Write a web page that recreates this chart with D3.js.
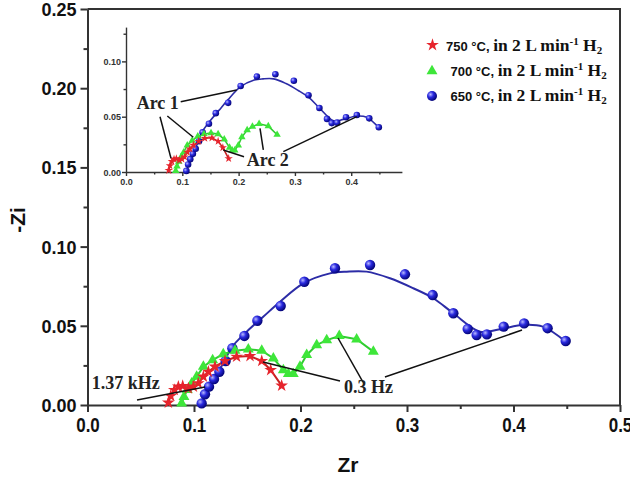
<!DOCTYPE html>
<html>
<head>
<meta charset="utf-8">
<script src="https://cdn.jsdelivr.net/npm/d3@7"></script>
<style>
  body { margin: 0; background: #fff; }
  svg { display: block; }
</style>
</head>
<body>
<svg id="chart" width="630" height="488"></svg>
<script>
// --- data: [Zr, -Zi] ---
const red750 = [
  [0.0759, 0.0015], [0.0781, 0.0057], [0.0815, 0.0095], [0.0853, 0.0116], [0.0894, 0.0120],
  [0.0947, 0.0105], [0.0994, 0.0116], [0.1040, 0.0137], [0.1088, 0.0179], [0.1135, 0.0210],
  [0.1197, 0.0242], [0.1291, 0.0278], [0.1400, 0.0305], [0.1526, 0.0309], [0.1636, 0.0278],
  [0.1720, 0.0221], [0.1823, 0.0122]
];
const green700 = [
  [0.0884, 0.0010], [0.0906, 0.0052], [0.0937, 0.0095], [0.0978, 0.0137], [0.1025, 0.0179],
  [0.1088, 0.0242], [0.1175, 0.0284], [0.1275, 0.0322], [0.1385, 0.0343], [0.1510, 0.0352],
  [0.1636, 0.0343], [0.1745, 0.0295], [0.1839, 0.0221], [0.1886, 0.0196], [0.1932, 0.0196],
  [0.1995, 0.0242], [0.2058, 0.0316], [0.2152, 0.0379], [0.2246, 0.0410], [0.2364, 0.0436],
  [0.2527, 0.0415], [0.2684, 0.0337]
];
const blue650 = [
  [0.1072, 0.0010], [0.1103, 0.0068], [0.1141, 0.0116], [0.1188, 0.0164], [0.1238, 0.0210],
  [0.1297, 0.0278], [0.1360, 0.0358], [0.1473, 0.0436], [0.1595, 0.0532], [0.1814, 0.0625],
  [0.2036, 0.0778], [0.2324, 0.0863], [0.2653, 0.0884], [0.2981, 0.0825], [0.3241, 0.0694],
  [0.3435, 0.0579], [0.3570, 0.0480], [0.3654, 0.0442], [0.3750, 0.0446], [0.3908, 0.0495],
  [0.4100, 0.0515], [0.4320, 0.0485], [0.4490, 0.0404]
];
// fitted curve drawn through the 650 °C points
const blueFit = [
  [0.1065, 0.0000], [0.1130, 0.0090], [0.1200, 0.0180], [0.1280, 0.0270], [0.1354, 0.0364],
  [0.1495, 0.0463], [0.1650, 0.0557], [0.1808, 0.0652], [0.2027, 0.0768], [0.2277, 0.0831],
  [0.2433, 0.0842], [0.2621, 0.0842], [0.2840, 0.0800], [0.3059, 0.0737], [0.3247, 0.0674],
  [0.3435, 0.0579], [0.3685, 0.0463], [0.3860, 0.0476], [0.4100, 0.0506], [0.4275, 0.0495],
  [0.4500, 0.0395]
];

const xTicks = [0, 0.1, 0.2, 0.3, 0.4, 0.5];
const yTicks = [0, 0.05, 0.10, 0.15, 0.20, 0.25];
const insetXTicks = [0, 0.1, 0.2, 0.3, 0.4];
const insetYTicks = [0, 0.05, 0.10];
const legendLabels = ["750 \u00B0C,", "700 \u00B0C,", "650 \u00B0C,"];

// annotations: [x1, y1, x2, y2] in data units
const mainLeaders = [
  [0.0465, 0.0032, 0.1103, 0.0114],
  [0.1648, 0.0271, 0.2371, 0.0152],
  [0.2587, 0.0145, 0.2352, 0.0423],
  [0.2793, 0.0177, 0.4080, 0.0473]
];
const mainNotes = [
  { text: "1.37 kHz", x: 0.004, y: 0.0101 },
  { text: "0.3 Hz", x: 0.2408, y: 0.0076 }
];
const insetLeaders = [
  [0.0972, 0.0636, 0.1966, 0.0741],
  [0.0604, 0.0500, 0.0799, 0.0124],
  [0.0734, 0.0506, 0.1195, 0.0314],
  [0.1728, 0.0199, 0.2096, 0.0138],
  [0.2439, 0.0199, 0.2380, 0.0395],
  [0.2794, 0.0184, 0.4098, 0.0500]
];
const insetNotes = [
  { text: "Arc 1", x: 0.019, y: 0.057 },
  { text: "Arc 2", x: 0.2144, y: 0.0054 }
];

const SANS = "'Liberation Sans', Arial, sans-serif";
const SERIF = "'Liberation Serif', 'Times New Roman', serif";
const AXIS = "#333";

const svg = d3.select("#chart");

// sphere look for the blue markers
const defs = svg.append("defs");
const grad = defs.append("radialGradient").attr("id", "ball")
  .attr("cx", "35%").attr("cy", "35%").attr("r", "65%");
grad.append("stop").attr("offset", "0%").attr("stop-color", "#b8b8ff");
grad.append("stop").attr("offset", "45%").attr("stop-color", "#2a2ae0");
grad.append("stop").attr("offset", "100%").attr("stop-color", "#05057a");

// --- main scales ---
const x = d3.scaleLinear().domain([0, 0.5]).range([87.5, 620]);
const y = d3.scaleLinear().domain([0, 0.25]).range([405, 9]);

// --- inset scales ---
const xi = d3.scaleLinear().domain([0, 0.49]).range([126, 401.9]);
const yi = d3.scaleLinear().domain([0, 0.131]).range([172, 27.1]);

function styleAxis(g, width) {
  g.select(".domain").attr("stroke", AXIS).attr("stroke-width", width);
  g.selectAll(".tick line").attr("stroke", AXIS).attr("stroke-width", width);
}

// main axes
const gx = svg.append("g").attr("transform", `translate(0,${y(0)})`)
  .call(d3.axisBottom(x).tickValues(xTicks).tickFormat(d3.format(".1f")).tickSize(7).tickSizeOuter(0));
styleAxis(gx, 2);
gx.selectAll(".tick text")
  .attr("y", null).attr("dy", null)
  .attr("transform", "translate(0,27) scale(1,1.18)")
  .attr("font-family", SANS).attr("font-weight", "bold").attr("font-size", 17).attr("fill", "#111");
svg.append("g").attr("transform", `translate(0,${y(0)})`)
  .call(d3.axisBottom(x).tickValues(d3.range(0.05, 0.5, 0.1)).tickFormat("").tickSize(4).tickSizeOuter(0))
  .call(g => { g.select(".domain").remove(); styleAxis(g, 2); });

const gy = svg.append("g").attr("transform", `translate(${x(0)},0)`)
  .call(d3.axisLeft(y).tickValues(yTicks).tickFormat(d3.format(".2f")).tickSize(7).tickSizeOuter(0));
styleAxis(gy, 2);
gy.selectAll(".tick text")
  .attr("x", -11).attr("dy", "0.36em")
  .attr("font-family", SANS).attr("font-weight", "bold").attr("font-size", 18).attr("fill", "#111");
svg.append("g").attr("transform", `translate(${x(0)},0)`)
  .call(d3.axisLeft(y).tickValues(d3.range(0.025, 0.25, 0.05)).tickFormat("").tickSize(4).tickSizeOuter(0))
  .call(g => { g.select(".domain").remove(); styleAxis(g, 2); });

// frame top + right
svg.append("path")
  .attr("d", `M${x(0)},${y(0.25)}H${x(0.5)}V${y(0)}`)
  .attr("fill", "none").attr("stroke", AXIS).attr("stroke-width", 2);

// axis titles
svg.append("text").attr("x", 348).attr("y", 472).attr("text-anchor", "middle")
  .attr("font-family", SANS).attr("font-weight", "bold").attr("font-size", 21).attr("fill", "#111")
  .text("Zr");
svg.append("text").attr("transform", "translate(25,220) rotate(-90)").attr("text-anchor", "middle")
  .attr("font-family", SANS).attr("font-weight", "bold").attr("font-size", 21).attr("fill", "#111")
  .text("-Zi");

// --- inset axes ---
const gxi = svg.append("g").attr("transform", `translate(0,${yi(0)})`)
  .call(d3.axisBottom(xi).tickValues(insetXTicks).tickFormat(d3.format(".1f")).tickSize(4).tickSizeOuter(0));
styleAxis(gxi, 1.4);
gxi.selectAll(".tick text").attr("y", 13).attr("dy", null)
  .attr("font-family", SANS).attr("font-weight", "bold").attr("font-size", 9).attr("fill", "#333");
svg.append("g").attr("transform", `translate(0,${yi(0)})`)
  .call(d3.axisBottom(xi).tickValues(d3.range(0.05, 0.49, 0.1)).tickFormat("").tickSize(2.5).tickSizeOuter(0))
  .call(g => { g.select(".domain").remove(); styleAxis(g, 1.4); });

const gyi = svg.append("g").attr("transform", `translate(${xi(0)},0)`)
  .call(d3.axisLeft(yi).tickValues(insetYTicks).tickFormat(d3.format(".2f")).tickSize(4).tickSizeOuter(0));
styleAxis(gyi, 1.4);
gyi.selectAll(".tick text").attr("x", -5).attr("dy", "0.35em")
  .attr("font-family", SANS).attr("font-weight", "bold").attr("font-size", 9).attr("fill", "#333");
svg.append("g").attr("transform", `translate(${xi(0)},0)`)
  .call(d3.axisLeft(yi).tickValues([0.025, 0.075, 0.125]).tickFormat("").tickSize(2.5).tickSizeOuter(0))
  .call(g => { g.select(".domain").remove(); styleAxis(g, 1.4); });

// --- series drawing ---
function drawSeries(sx, sy, small) {
  const g = svg.append("g");
  const line = d3.line().x(d => sx(d[0])).y(d => sy(d[1]));

  g.append("path")
    .attr("d", line.curve(d3.curveCatmullRom)(blueFit))
    .attr("fill", "none").attr("stroke", "#2c2ca6").attr("stroke-width", small ? 1.6 : 2);
  g.append("path")
    .attr("d", d3.line().x(d => sx(d[0])).y(d => sy(d[1]))(green700))
    .attr("fill", "none").attr("stroke", "#30cc30").attr("stroke-width", small ? 1.6 : 2);
  g.append("path")
    .attr("d", d3.line().x(d => sx(d[0])).y(d => sy(d[1]))(red750))
    .attr("fill", "none").attr("stroke", "#c82222").attr("stroke-width", small ? 1.6 : 2);

  g.selectAll("circle.b").data(blue650).join("circle").attr("class", "b")
    .attr("cx", d => sx(d[0])).attr("cy", d => sy(d[1]))
    .attr("r", small ? 3.3 : 5.2).attr("fill", "url(#ball)");
  g.selectAll("path.g").data(green700).join("path").attr("class", "g")
    .attr("transform", d => `translate(${sx(d[0])},${sy(d[1])})`)
    .attr("d", d3.symbol(d3.symbolTriangle, small ? 24 : 52)())
    .attr("fill", "#3ee63a");
  g.selectAll("path.r").data(red750).join("path").attr("class", "r")
    .attr("transform", d => `translate(${sx(d[0])},${sy(d[1])})`)
    .attr("d", d3.symbol(d3.symbolStar, small ? 22 : 50)())
    .attr("fill", "#e6242c");
}

drawSeries(xi, yi, true);
drawSeries(x, y, false);

// --- annotations ---
function drawNotes(sx, sy, leaders, notes, size) {
  svg.append("g").selectAll("line").data(leaders).join("line")
    .attr("x1", d => sx(d[0])).attr("y1", d => sy(d[1]))
    .attr("x2", d => sx(d[2])).attr("y2", d => sy(d[3]))
    .attr("stroke", "#111").attr("stroke-width", 1.5);
  svg.append("g").selectAll("text").data(notes).join("text")
    .attr("x", d => sx(d.x)).attr("y", d => sy(d.y))
    .attr("font-family", SERIF).attr("font-weight", "bold").attr("font-size", size)
    .attr("fill", "#222").text(d => d.text);
}
drawNotes(x, y, mainLeaders, mainNotes, 18);
drawNotes(xi, yi, insetLeaders, insetNotes, 18);

// --- legend ---
const legendRows = [51, 76, 101];
const legendX = [446, 450.5, 450.5];
const leg = svg.append("g");
legendLabels.forEach((lab, i) => {
  const cy = legendRows[i] - 6;
  if (i === 0) {
    leg.append("path").attr("transform", `translate(432.5,${cy})`)
      .attr("d", d3.symbol(d3.symbolStar, 50)()).attr("fill", "#e6242c");
  } else if (i === 1) {
    leg.append("path").attr("transform", `translate(432,${cy + 1})`)
      .attr("d", d3.symbol(d3.symbolTriangle, 52)()).attr("fill", "#3ee63a");
  } else {
    leg.append("circle").attr("cx", 432).attr("cy", cy + 1).attr("r", 5).attr("fill", "url(#ball)");
  }
  const t = leg.append("text").attr("x", legendX[i]).attr("y", legendRows[i])
    .attr("fill", "#111").attr("font-weight", "bold");
  t.append("tspan").attr("font-family", SANS).attr("font-size", 13).text(lab + " ");
  t.append("tspan").attr("font-family", SERIF).attr("font-size", 17.5).text("in 2 L min");
  t.append("tspan").attr("font-family", SERIF).attr("font-size", 11).attr("dy", -6).text("-1");
  t.append("tspan").attr("font-family", SERIF).attr("font-size", 17.5).attr("dy", 6).text(" H");
  t.append("tspan").attr("font-family", SERIF).attr("font-size", 11).attr("dy", 3).text("2");
});
</script>
</body>
</html>
